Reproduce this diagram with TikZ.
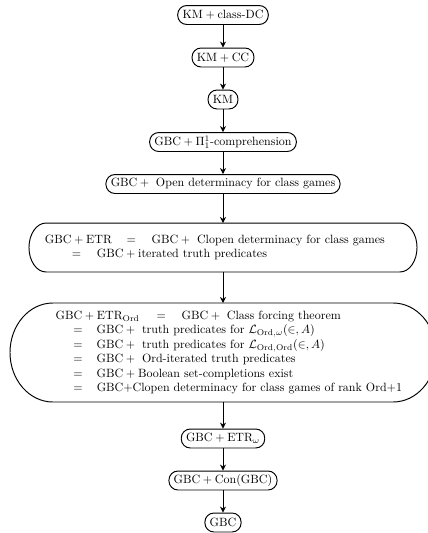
\documentclass[tikz,border=0pt]{standalone}
\usetikzlibrary{arrows.meta}
\newcommand{\eqrow}[4]{\mbox{\makebox[#1][l]{#3}\makebox[\dimexpr#2-#1\relax][l]{$=$}#4}}
\tikzset{
  box/.style={draw, rounded corners=7.5pt, line width=0.8pt, minimum height=15.8pt, inner xsep=4pt, inner ysep=2pt},
  bigbox/.style={draw=none, outer sep=0pt, align=left},
  bord/.style={line width=0.8pt},
  arr/.style={line width=0.8pt, -{Stealth[length=5pt,width=5pt]}}
}
\begin{document}
\begin{tikzpicture}[x=0.8333pt, y=-0.8333pt]
\useasboundingbox (0,0) rectangle (428,533);
\node[box] (n1) at (223,15) {$\mathrm{KM}+\mbox{class-DC}$};
\node[box] (n2) at (223,57.5) {$\mathrm{KM}+\mathrm{CC}$};
\node[box] (n3) at (223,99.5) {$\mathrm{KM}$};
\node[box] (n4) at (223,142) {$\mathrm{GBC}+\Pi^1_1$-comprehension};
\node[box] (n5) at (223,184) {$\mathrm{GBC}+\mbox{ Open determinacy for class games}$};
\node[bigbox, text width=296.7pt, inner xsep=13.33pt, minimum height=40.8pt] (n6) at (223,247.5)
  {\eqrow{68pt}{89pt}{$\mathrm{GBC}+\mathrm{ETR}$}{$\mathrm{GBC}+\mbox{ Clopen determinacy for class games}$}\\
   \eqrow{22.5pt}{43.3pt}{}{$\mathrm{GBC}+\mbox{iterated truth predicates}$}};
\draw[bord] ([xshift=14.2pt]n6.north west) -- ([xshift=-14.2pt]n6.north east)
  arc[start angle=90, end angle=-90, x radius=14.2pt, y radius=20.4pt]
  -- ([xshift=14.2pt]n6.south west)
  arc[start angle=270, end angle=90, x radius=14.2pt, y radius=20.4pt] -- cycle;
\node[bigbox, text width=278.8pt, inner xsep=38.1pt, minimum height=82.5pt] (n7) at (223,352.5)
  {\eqrow{84pt}{105pt}{$\mathrm{GBC}+\mathrm{ETR}_{\mathrm{Ord}}$}{$\mathrm{GBC}+\mbox{ Class forcing theorem}$}\\
   \eqrow{14.7pt}{34.2pt}{}{$\mathrm{GBC}+\mbox{ truth predicates for }\mathcal{L}_{\mathrm{Ord},\omega}(\in,A)$}\\
   \eqrow{14.7pt}{34.2pt}{}{$\mathrm{GBC}+\mbox{ truth predicates for }\mathcal{L}_{\mathrm{Ord},\mathrm{Ord}}(\in,A)$}\\
   \eqrow{14.7pt}{34.2pt}{}{$\mathrm{GBC}+\mbox{ Ord-iterated truth predicates}$}\\
   \eqrow{14.7pt}{34.2pt}{}{$\mathrm{GBC}+\mbox{Boolean set-completions exist}$}\\
   \eqrow{14.7pt}{34.2pt}{}{GBC+Clopen determinacy for class games of rank Ord+1}};
\draw[bord] ([xshift=35.8pt]n7.north west) -- ([xshift=-35.8pt]n7.north east)
  arc[start angle=90, end angle=-90, x radius=35.8pt, y radius=41.25pt]
  -- ([xshift=35.8pt]n7.south west)
  arc[start angle=270, end angle=90, x radius=35.8pt, y radius=41.25pt] -- cycle;
\node[box] (n8) at (223,438.5) {$\mathrm{GBC}+\mathrm{ETR}_\omega$};
\node[box] (n9) at (223,480.5) {$\mathrm{GBC}+\mathrm{Con}(\mathrm{GBC})$};
\node[box] (n10) at (223,522.5) {$\mathrm{GBC}$};
\draw[arr] (n1) -- (n2);
\draw[arr] (n2) -- (n3);
\draw[arr] (n3) -- (n4);
\draw[arr] (n4) -- (n5);
\draw[arr] (n5) -- (n6);
\draw[arr] (n6) -- (n7);
\draw[arr] (n7) -- (n8);
\draw[arr] (n8) -- (n9);
\draw[arr] (n9) -- (n10);
\end{tikzpicture}
\end{document}
